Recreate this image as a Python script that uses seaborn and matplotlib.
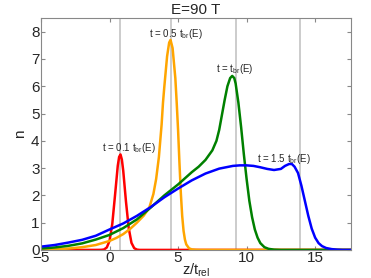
import numpy as np
import pandas as pd
import seaborn as sns
import matplotlib
matplotlib.use("Agg")
import matplotlib.pyplot as plt

# curves
x_red = [-5, -1, -0.6, -0.4, -0.2, 0, 0.2, 0.4, 0.6, 0.7, 0.8, 0.9, 1.0, 1.2, 1.4, 1.6, 1.8, 2.0, 2.2, 18]
n_red = [0, 0, 0.003, 0.016, 0.09, 0.33, 0.95, 2.0, 3.08, 3.41, 3.5, 3.31, 2.9, 1.77, 0.8, 0.26, 0.064, 0.011, 0, 0]

x_orange = [-5, -4, -3, -2, -1, 0, 0.5, 1, 1.5, 2, 2.5, 2.9, 3.2, 3.4, 3.6, 3.8, 3.9, 4.0, 4.2, 4.35, 4.45,
            4.6, 4.8, 4.9, 5.0, 5.1, 5.2, 5.3, 5.4, 5.5, 5.6, 5.8, 6.0, 6.3, 6.6, 18]
n_orange = [0, 0.02, 0.05, 0.1, 0.18, 0.33, 0.44, 0.58, 0.77, 1.0, 1.26, 1.55, 2.05, 2.6, 3.4, 4.6, 5.4, 6.0, 7.1, 7.6, 7.7,
            7.4, 6.3, 5.4, 4.4, 3.2, 2.1, 1.25, 0.7, 0.38, 0.2, 0.06, 0.02, 0.005, 0, 0]

x_green = [-5, -4, -3, -2, -1, 0, 1, 2, 3, 4, 5, 6, 6.5, 7, 7.5, 7.8, 8.0, 8.2, 8.4, 8.6, 8.8, 8.95,
           9.1, 9.2, 9.4, 9.6, 9.8, 10.0, 10.2, 10.4, 10.6, 10.8, 11.0, 11.3, 11.6, 12.0, 12.5, 18]
n_green = [0.05, 0.09, 0.15, 0.24, 0.38, 0.55, 0.8, 1.12, 1.55, 2.0, 2.4, 2.85, 3.05, 3.3, 3.65, 4.0, 4.4, 4.95, 5.5, 6.0, 6.3, 6.38,
           6.3, 6.1, 5.4, 4.5, 3.5, 2.6, 1.8, 1.2, 0.75, 0.45, 0.25, 0.1, 0.04, 0.01, 0, 0]

x_blue = [-5, -4, -3, -2, -1, 0, 1, 2, 3, 4, 5, 6, 7, 8, 9, 9.5, 10, 10.5, 11, 11.5, 12, 12.5, 12.8, 13.1, 13.3,
          13.5, 13.75, 14.0, 14.25, 14.5, 14.75, 15.0, 15.25, 15.5, 15.8, 16.2, 16.6, 17, 18]
n_blue = [0.12, 0.18, 0.27, 0.37, 0.52, 0.75, 0.97, 1.25, 1.57, 1.93, 2.25, 2.55, 2.8, 2.98, 3.08, 3.1, 3.1, 3.08, 3.03, 2.97, 2.93, 2.97, 3.08, 3.15, 3.15,
          3.05, 2.82, 2.35, 1.8, 1.25, 0.78, 0.45, 0.25, 0.14, 0.07, 0.03, 0.01, 0, 0]

peak_lines = [0.78, 4.45, 9.25, 13.9]
labels = ["t = 0.1 t$_{br}$(E)", "t = 0.5 t$_{br}$(E)", "t = t$_{br}$(E)", "t = 1.5 t$_{br}$(E)"]
label_x = [1.4, 4.85, 9.14, 12.7]
label_y = [3.72, 7.9, 6.62, 3.35]

sns.set_style("ticks")
plt.rcParams['font.family'] = ['Liberation Sans', 'DejaVu Sans']
plt.rcParams['mathtext.fontset'] = 'custom'
plt.rcParams['mathtext.rm'] = 'Liberation Sans'
plt.rcParams['mathtext.default'] = 'regular'

fig = plt.figure(figsize=(3.71, 2.78), dpi=100)
ax = fig.add_axes([0.1105, 0.101, 0.835, 0.834])

for xv in peak_lines:
    ax.axvline(xv, color='#c8c8c8', lw=1.3, zorder=0)

curves = [(x_red, n_red, 'red'), (x_orange, n_orange, 'orange'),
          (x_green, n_green, 'green'), (x_blue, n_blue, 'blue')]
for xs, ns, c in curves:
    d = pd.DataFrame({'z': xs, 'n': ns})
    sns.lineplot(data=d, x='z', y='n', color=c, lw=1.8, ax=ax, sort=False, estimator=None)

for lx, ly, t in zip(label_x, label_y, labels):
    ax.text(lx, ly, t, fontsize=7, ha='center', va='center')

ax.set_xlim(-5, 17.6)
ax.set_ylim(0, 8.5)
ax.set_xticks([-5, 0, 5, 10, 15])
ax.set_yticks(range(0, 9))
ax.tick_params(direction='in', top=True, right=True, length=3, labelsize=11, color='#888888', pad=1)
for s in ax.spines.values():
    s.set_color('#888888')
    s.set_linewidth(0.8)
ax.set_title('E=90 T', fontsize=11, pad=3)
ax.set_xlabel('z/t$_{rel}$', fontsize=10.5, labelpad=-3)
ax.set_ylabel('n', fontsize=11, labelpad=3)

fig.savefig('out.png', dpi=100)
